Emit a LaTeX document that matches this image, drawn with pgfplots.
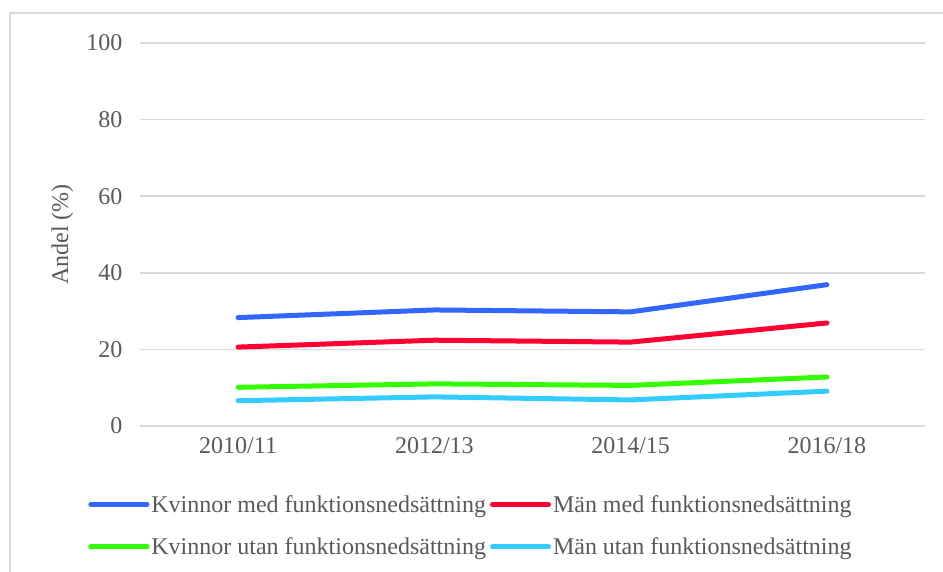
\documentclass[border=0pt]{standalone}
\usepackage{pgfplots}
\pgfplotsset{compat=1.18}
\usepackage{fontspec}
\setmainfont{Liberation Serif}
\definecolor{kmed}{RGB}{51,102,255}
\definecolor{mmed}{RGB}{255,0,51}
\definecolor{kutan}{RGB}{51,255,0}
\definecolor{mutan}{RGB}{51,204,255}
\definecolor{txtgray}{RGB}{89,89,89}
\definecolor{gridgray}{RGB}{217,217,217}
\begin{document}
\begin{tikzpicture}[x=1pt,y=1pt]
\useasboundingbox (0,0) rectangle (943,572);
% outer chart frame (only left and top visible)
\draw[gridgray, line width=1.5pt] (10,0) -- (10,559) -- (943,559);
\begin{axis}[
  at={(140pt,146pt)}, anchor=south west,
  scale only axis,
  width=785pt, height=383pt,
  xmin=-0.5, xmax=3.5,
  ymin=0, ymax=100,
  xtick={0,1,2,3},
  xticklabels={2010/11,2012/13,2014/15,2016/18},
  ytick={0,20,...,100},
  major tick length=0pt,
  axis line style={draw=none},
  ymajorgrids=true,
  grid style={line width=1.5pt, gridgray},
  /pgf/number format/assume math mode=true,
  tick label style={font=\fontsize{24}{28}\selectfont, text=txtgray},
  yticklabel style={xshift=-14pt},
  xticklabel style={yshift=-8pt},
  ylabel={Andel (\%)},
  ylabel style={at={(axis description cs:-0.099,0.5)}, anchor=center,
    font=\fontsize{24}{28}\selectfont, text=txtgray},
  clip=false,
  legend columns=2,
  legend cell align=left,
  legend style={at={(axis description cs:-0.066,-0.175)}, anchor=north west,
    draw=none, fill=none, font=\fontsize{24}{28}\selectfont, text=txtgray,
    row sep=20pt, inner sep=0pt,
    /tikz/every even column/.append style={column sep=2pt}},
  legend image code/.code={\draw[#1, line width=5pt, line cap=round] (0pt,0pt) -- (56pt,0pt);},
  every axis plot/.append style={line width=5pt, line cap=round, line join=round},
]
\addplot[kmed] coordinates {(0,28.3) (1,30.3) (2,29.8) (3,36.9)};
\addlegendentry{Kvinnor med funktionsnedsättning}
\addplot[mmed] coordinates {(0,20.6) (1,22.4) (2,21.9) (3,26.9)};
\addlegendentry{Män med funktionsnedsättning}
\addplot[kutan] coordinates {(0,10.1) (1,11.0) (2,10.6) (3,12.8)};
\addlegendentry{Kvinnor utan funktionsnedsättning}
\addplot[mutan] coordinates {(0,6.6) (1,7.6) (2,6.8) (3,9.1)};
\addlegendentry{Män utan funktionsnedsättning}
\end{axis}
\end{tikzpicture}
\end{document}
